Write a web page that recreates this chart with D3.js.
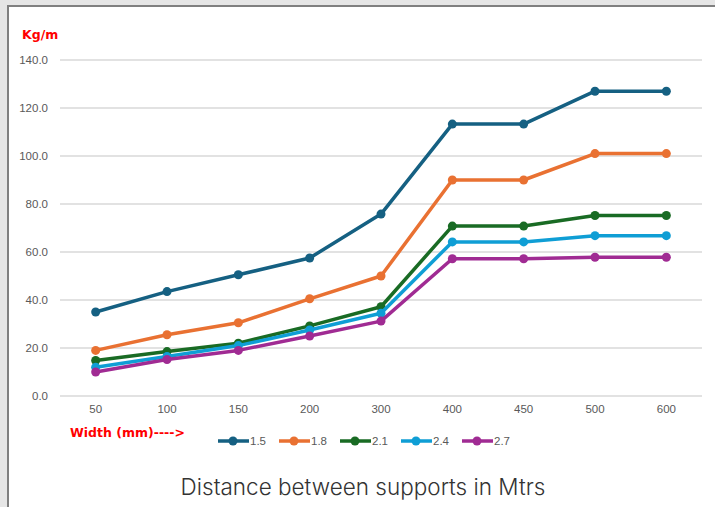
<!DOCTYPE html>
<html>
<head>
<meta charset="utf-8">
<script src="https://cdn.jsdelivr.net/npm/d3@7"></script>
<style>
  body { margin: 0; background: #fff; }
  svg { display: block; }
</style>
</head>
<body>
<svg width="715" height="507"></svg>
<script>
var svg = d3.select("svg"),
    width = +svg.attr("width"),
    height = +svg.attr("height");

// categories on x (distance between supports)
var distances = ["50", "100", "150", "200", "300", "400", "450", "500", "600"];
var widths = ["1.5", "1.8", "2.1", "2.4", "2.7"];
var yTicks = [0, 20, 40, 60, 80, 100, 120, 140];

var s15 = [35.0, 43.5, 50.5, 57.5, 75.8, 113.3, 113.3, 127.0, 127.0];
var s18 = [19.0, 25.5, 30.5, 40.5, 50.0, 90.0, 90.0, 101.0, 101.0];
var s21 = [14.8, 18.5, 22.0, 29.2, 37.2, 70.8, 70.8, 75.2, 75.2];
var s24 = [12.0, 16.5, 21.0, 27.5, 34.5, 64.2, 64.2, 66.8, 66.8];
var s27 = [10.0, 15.2, 19.0, 25.0, 31.2, 57.2, 57.2, 57.8, 57.8];

var series = [s15, s18, s21, s24, s27];
var colors = ["#156082", "#e97132", "#196b24", "#0f9ed5", "#a02b93"];

// window frame (gray strips)
svg.append("rect").attr("x", 0).attr("y", 0).attr("width", width).attr("height", 5).attr("fill", "#e6e6e6");
svg.append("rect").attr("x", 0).attr("y", 0).attr("width", 7).attr("height", height).attr("fill", "#e6e6e6");
svg.append("rect").attr("x", 7).attr("y", 5).attr("width", width).attr("height", 2).attr("fill", "#808080");
svg.append("rect").attr("x", 7).attr("y", 5).attr("width", 2).attr("height", height).attr("fill", "#808080");

var x = d3.scaleBand()
    .domain(distances)
    .range([60, 702]);

var y = d3.scaleLinear()
    .domain([0, 140])
    .range([396, 60]);

// gridlines
svg.append("g").selectAll("line")
  .data(yTicks)
  .enter().append("line")
    .attr("x1", 60)
    .attr("x2", 702)
    .attr("y1", function(d) { return y(d); })
    .attr("y2", function(d) { return y(d); })
    .attr("stroke", "#d9d9d9")
    .attr("stroke-width", 1.5);

var yAxis = svg.append("g")
    .attr("transform", "translate(48,0)")
    .call(d3.axisLeft(y).tickValues(yTicks).tickFormat(d3.format(".1f")).tickSize(0).tickPadding(0));
yAxis.select(".domain").remove();
yAxis.selectAll("text")
    .attr("fill", "#595959")
    .style("font-family", "'Liberation Sans', Arial, sans-serif")
    .style("font-size", "11.5px");

var xAxis = svg.append("g")
    .attr("transform", "translate(0,405)")
    .call(d3.axisBottom(x).tickSize(0).tickPadding(0));
xAxis.select(".domain").remove();
xAxis.selectAll("text")
    .attr("fill", "#595959")
    .style("font-family", "'Liberation Sans', Arial, sans-serif")
    .style("font-size", "11.5px");

var line = d3.line()
    .x(function(d, i) { return x(distances[i]) + x.bandwidth() / 2; })
    .y(function(d) { return y(d); });

series.forEach(function(vals, k) {
  var g = svg.append("g");
  g.append("path")
    .datum(vals)
    .attr("d", line)
    .attr("fill", "none")
    .attr("stroke", colors[k])
    .attr("stroke-width", 3.5)
    .attr("stroke-linejoin", "round");
  g.selectAll("circle")
    .data(vals)
    .enter().append("circle")
      .attr("cx", function(d, i) { return x(distances[i]) + x.bandwidth() / 2; })
      .attr("cy", function(d) { return y(d); })
      .attr("r", 4.5)
      .attr("fill", colors[k]);
});

// axis captions
svg.append("text")
    .attr("x", 22).attr("y", 39)
    .text("Kg/m")
    .attr("fill", "#ff0000")
    .style("font-family", "'DejaVu Sans', sans-serif")
    .style("font-weight", "bold")
    .style("font-size", "12.5px");

svg.append("text")
    .attr("x", 70).attr("y", 437)
    .text("Width (mm)---->")
    .attr("fill", "#ff0000")
    .style("font-family", "'DejaVu Sans', sans-serif")
    .style("font-weight", "bold")
    .style("font-size", "12.5px");

// legend
var legend = svg.append("g").selectAll("g")
  .data(widths)
  .enter().append("g")
    .attr("transform", function(d, i) { return "translate(" + (218 + i * 61) + ",441)"; });
legend.append("line")
    .attr("x1", 0).attr("x2", 31)
    .attr("stroke", function(d, i) { return colors[i]; })
    .attr("stroke-width", 3.5);
legend.append("circle")
    .attr("cx", 15).attr("r", 4.5)
    .attr("fill", function(d, i) { return colors[i]; });
legend.append("text")
    .attr("x", 32).attr("y", 4)
    .text(function(d) { return d; })
    .attr("fill", "#595959")
    .style("font-family", "'Liberation Sans', Arial, sans-serif")
    .style("font-size", "11.5px");

svg.append("text")
    .attr("x", 363).attr("y", 495)
    .attr("text-anchor", "middle")
    .text("Distance between supports in Mtrs")
    .attr("fill", "#333")
    .style("font-family", "Inter, sans-serif")
    .style("font-weight", 300)
    .style("font-size", "22.5px");
</script>
</body>
</html>
